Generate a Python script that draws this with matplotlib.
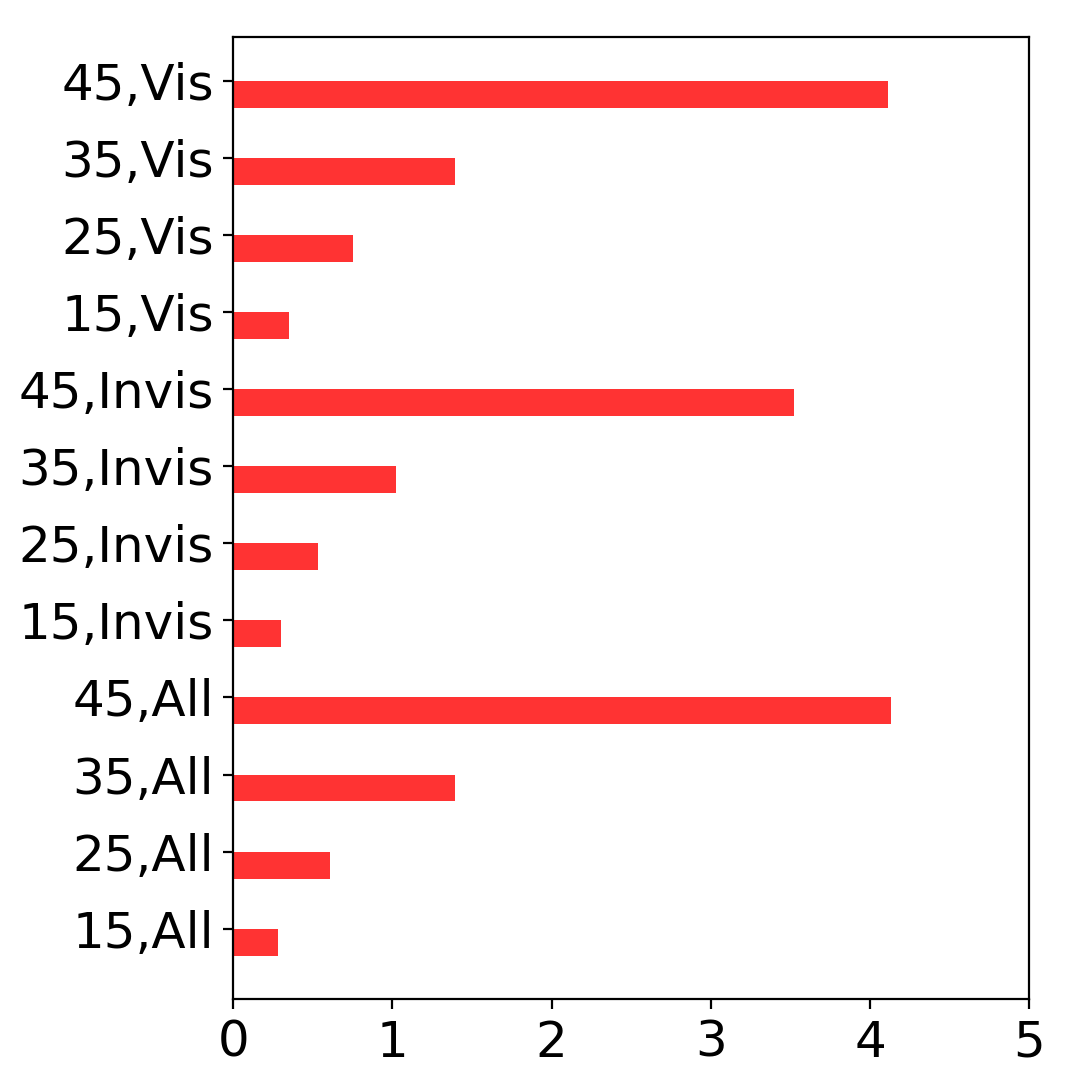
import matplotlib
matplotlib.use("Agg")
import matplotlib.pyplot as plt
import numpy as np

categories = ["15,All", "25,All", "35,All", "45,All",
              "15,Invis", "25,Invis", "35,Invis", "45,Invis",
              "15,Vis", "25,Vis", "35,Vis", "45,Vis"]
values = [0.28, 0.61, 1.39, 4.13,
          0.30, 0.53, 1.02, 3.52,
          0.35, 0.75, 1.39, 4.11]
xticks = [0, 1, 2, 3, 4, 5]

fig = plt.figure(figsize=(1071/200, 1090/200), dpi=200)
ax = fig.add_axes([0.2178, 0.0832, 0.961 - 0.2178, 0.9658 - 0.0832])
pos = np.arange(len(categories))
ax.barh(pos, values, height=-0.35, align="edge", color="#ff3333")
ax.set_yticks(pos)
ax.set_yticklabels(categories, fontsize=18)
ax.set_xticks(xticks)
ax.set_xticklabels([str(t) for t in xticks], fontsize=18)
ax.set_xlim(0, 5)
fig.savefig("out.png", dpi=200)
